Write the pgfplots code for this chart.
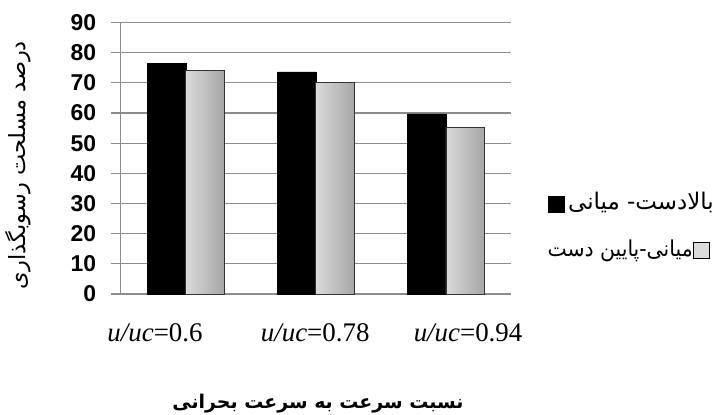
\documentclass[border=0pt]{standalone}
\usepackage{pgfplots}
\pgfplotsset{compat=1.18}
\usepackage{fontspec}
\setmainfont{Liberation Sans}
\newfontfamily\arabicfont[Script=Arabic]{DejaVu Sans}
\newfontfamily\arabiclegnarrow[Script=Arabic, FakeStretch=0.93]{DejaVu Sans}
\newfontfamily\timesfont{Liberation Serif}
\TeXXeTstate=1
\definecolor{barL}{RGB}{218,218,218}
\definecolor{barR}{RGB}{166,166,166}
\definecolor{gridg}{RGB}{140,140,140}
\newcommand\sq[1]{\raisebox{-2bp}{\setlength\fboxsep{0pt}\setlength\fboxrule{1bp}\fcolorbox{black}{#1}{\rule{0pt}{15bp}\hspace{15bp}}}}
\begin{document}
\begin{tikzpicture}
\path[use as bounding box] (0bp,0bp) rectangle (720bp,415bp);
\begin{axis}[
  at={(120.7bp,121bp)}, anchor=south west,
  scale only axis, width=390.3bp, height=271.5bp,
  xmin=-0.5, xmax=2.5, ymin=0, ymax=90,
  ytick={0,10,...,90}, xtick=\empty,
  ybar, bar width=38.3bp,
  axis x line*=bottom, axis y line*=left,
  axis line style={draw=gridg, line width=1.2bp},
  ymajorgrids, grid style={draw=gridg, line width=1.2bp},
  tick align=outside, major tick length=10bp,
  ytick style={draw=gridg, line width=1.2bp},
  /pgf/number format/assume math mode=true,
  yticklabel style={font=\fontsize{23}{23}\selectfont\bfseries, xshift=-11bp},
  clip=false,
  ylabel={\hbox{\arabicfont\fontsize{22.5}{22.5}\selectfont\beginR درصد مسلحت رسوبگذاری\endR}},
  ylabel style={at={(axis description cs:-0.262,0.475)}, anchor=center},
  xlabel={\hbox{\arabicfont\bfseries\fontsize{19}{19}\selectfont\beginR نسبت سرعت به سرعت بحرانی\endR}},
  xlabel style={at={(axis description cs:0.5055,-0.42)}, anchor=base},
  legend style={at={(1.088,0.254)}, anchor=west, draw=none, fill=none,
    inner sep=0pt, row sep=24bp, column sep=0pt,
    font=\fontsize{22}{22}\selectfont},
  legend cell align=left,
]
\addplot[fill=black, draw=black, bar shift=-19.15bp, legend image code/.code={}]
  coordinates {(0,76.5) (1,73.6) (2,59.7)};
\addlegendentry{\makebox[172bp][l]{\sq{black}\,\hbox{\arabicfont\fontsize{23}{23}\selectfont\beginR بالادست- میانی\endR}}}
\addplot[draw=black!80, line width=0.8bp, left color=barL, right color=barR, bar shift=19.15bp, legend image code/.code={}]
  coordinates {(0,74)};
\addlegendentry{\makebox[172bp][l]{\hbox{\arabiclegnarrow\beginR میانی-پایین دست\endR}\sq{barL}}}
\addplot[draw=black!80, line width=0.8bp, left color=barL, right color=barR, bar shift=19.15bp]
  coordinates {(1,70.1)};
\addplot[draw=black!80, line width=0.8bp, left color=barL, right color=barR, bar shift=19.15bp]
  coordinates {(2,55.3)};
\node[font=\timesfont\fontsize{27}{27}\selectfont] at (axis cs:-0.236,0) [yshift=-39bp] {\textit{u/uc}=0.6};
\node[font=\timesfont\fontsize{27}{27}\selectfont] at (axis cs:0.995,0) [yshift=-39bp] {\textit{u/uc}=0.78};
\node[font=\timesfont\fontsize{27}{27}\selectfont] at (axis cs:2.17,0) [yshift=-39bp] {\textit{u/uc}=0.94};
\end{axis}
\end{tikzpicture}
\end{document}
